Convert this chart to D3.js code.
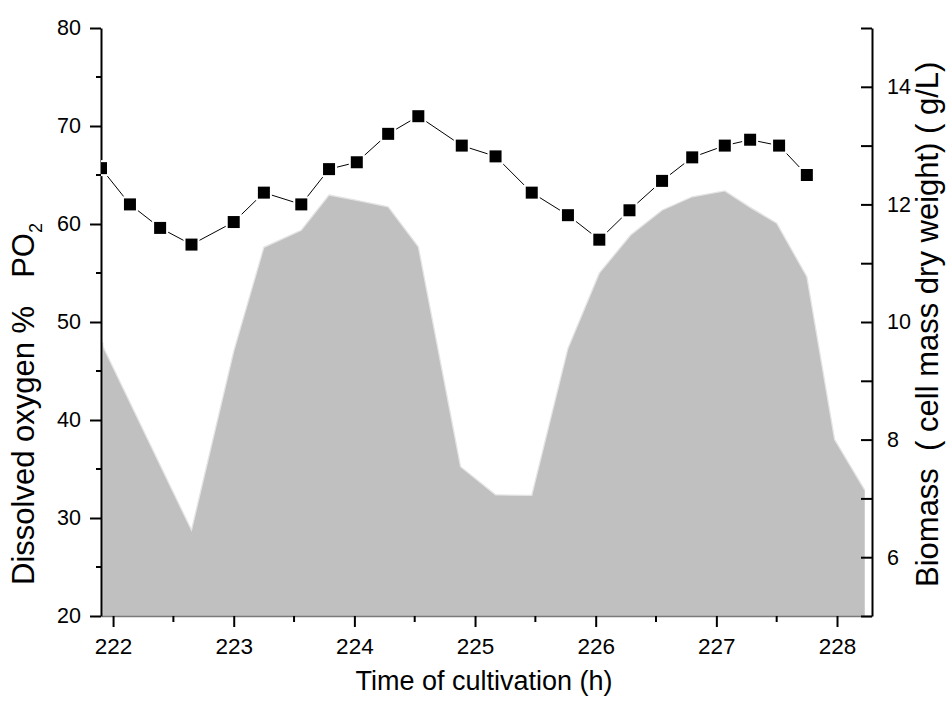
<!DOCTYPE html>
<html>
<head>
<meta charset="utf-8">
<script src="https://cdn.jsdelivr.net/npm/d3@7"></script>
<style>
  html, body { margin: 0; padding: 0; background: #fff; }
  svg { display: block; font-family: "Liberation Sans", Arial, Helvetica, sans-serif; }
</style>
</head>
<body>
<svg id="chart" width="948" height="704"></svg>
<script>
// ---- data ----
const poTime = [221.9, 222.14, 222.39, 222.65, 223.0, 223.25, 223.56, 223.79, 224.02, 224.28, 224.53, 224.89,
                225.17, 225.47, 225.77, 226.03, 226.28, 226.55, 226.8, 227.07, 227.28, 227.52, 227.75];
const poValues = [65.7, 62.0, 59.6, 57.9, 60.2, 63.2, 62.0, 65.6, 66.3, 69.2, 71.0, 68.0,
                  66.9, 63.2, 60.9, 58.4, 61.4, 64.4, 66.8, 68.0, 68.6, 68.0, 65.0];
const bioTime = [221.9, 222.65, 223.0, 223.25, 223.56, 223.79, 224.02, 224.28, 224.53, 224.88, 225.17,
                 225.47, 225.77, 226.03, 226.29, 226.55, 226.8, 227.07, 227.28, 227.5, 227.75, 227.98, 228.23];
const bioValues = [9.65, 6.46, 9.5, 11.27, 11.56, 12.16, 12.07, 11.96, 11.28, 7.54, 7.06,
                   7.05, 9.55, 10.83, 11.48, 11.9, 12.13, 12.23, 11.95, 11.68, 10.77, 8.0, 7.14];
const xTicks = [222, 223, 224, 225, 226, 227, 228];
const xMinorTicks = [222.5, 223.5, 224.5, 225.5, 226.5, 227.5];
const yLeftTicks = [20, 30, 40, 50, 60, 70, 80];
const yLeftMinor = [25, 35, 45, 55, 65, 75];
const yRightTicks = [5, 6, 7, 8, 9, 10, 11, 12, 13, 14, 15];

// ---- layout ----
const svg = d3.select("#chart");
const pL = 101, pR = 872, pT = 28, pB = 616;
const x = d3.scaleLinear().domain([221.9, 228.29]).range([pL, pR]);
const yL = d3.scaleLinear().domain([20, 80]).range([pB, pT]);
const yR = d3.scaleLinear().domain([5, 15]).range([pB, pT]);
const FONT = "Liberation Sans, Arial, sans-serif";

svg.append("defs").append("clipPath").attr("id", "plotclip")
  .append("rect").attr("x", pL).attr("y", pT - 10).attr("width", pR - pL).attr("height", pB - pT + 10);

// biomass area
const bio = bioTime.map((t, i) => ({ t, v: bioValues[i] }));
const area = d3.area().x(d => x(d.t)).y0(yR(5)).y1(d => yR(d.v));
svg.append("path").datum(bio).attr("d", area).attr("fill", "#c0c0c0").attr("stroke", "none");
const topLine = d3.line().x(d => x(d.t)).y(d => yR(d.v));
svg.append("path").datum(bio).attr("d", topLine).attr("fill", "none")
  .attr("stroke", "#e4e4e4").attr("stroke-width", 1.3);
svg.append("line").attr("x1", x(bioTime[0]) + 1.5).attr("x2", x(bioTime[0]) + 1.5)
  .attr("y1", yR(bioValues[0])).attr("y2", pB).attr("stroke", "#d6d6d6").attr("stroke-width", 1.5);

// bottom axis
const gx = svg.append("g").attr("transform", `translate(0,${pB})`)
  .call(d3.axisBottom(x).tickValues(xTicks).tickFormat(d3.format("d")).tickSizeInner(11).tickSizeOuter(0).tickPadding(11));
gx.select(".domain").attr("stroke", "#7a7a7a").attr("stroke-width", 1.5);
gx.selectAll(".tick line").attr("stroke", "#000").attr("stroke-width", 2);
gx.selectAll(".tick text").attr("font-size", 22.5).attr("fill", "#000").attr("font-family", FONT);
svg.append("g").selectAll("line").data(xMinorTicks).join("line")
  .attr("x1", d => x(d)).attr("x2", d => x(d)).attr("y1", pB).attr("y2", pB + 6)
  .attr("stroke", "#000").attr("stroke-width", 2);

// left axis
const gl = svg.append("g").attr("transform", `translate(${pL},0)`)
  .call(d3.axisLeft(yL).tickValues(yLeftTicks).tickFormat(d3.format("d")).tickSizeInner(11).tickSizeOuter(0).tickPadding(9));
gl.select(".domain").attr("stroke", "#000").attr("stroke-width", 2);
gl.selectAll(".tick line").attr("stroke", "#000").attr("stroke-width", 2);
gl.selectAll(".tick text").attr("font-size", 21.5).attr("fill", "#000").attr("font-family", FONT);
svg.append("g").selectAll("line").data(yLeftMinor).join("line")
  .attr("x1", pL - 5).attr("x2", pL).attr("y1", d => yL(d)).attr("y2", d => yL(d))
  .attr("stroke", "#000").attr("stroke-width", 2);

// right axis
const gr = svg.append("g").attr("transform", `translate(${pR},0)`)
  .call(d3.axisRight(yR).tickValues(yRightTicks).tickFormat(d => d % 2 === 0 ? d : "")
    .tickSizeInner(-11).tickSizeOuter(0).tickPadding(15));
gr.select(".domain").attr("stroke", "#000").attr("stroke-width", 2);
gr.selectAll(".tick line").attr("stroke", "#000").attr("stroke-width", 2);
gr.selectAll(".tick text").attr("font-size", 21.5).attr("fill", "#000").attr("font-family", FONT);

// PO2 line + markers
const po = poTime.map((t, i) => ({ t, v: poValues[i] }));
const plot = svg.append("g").attr("clip-path", "url(#plotclip)");
plot.append("path").datum(po).attr("d", d3.line().x(d => x(d.t)).y(d => yL(d.v)))
  .attr("fill", "none").attr("stroke", "#000").attr("stroke-width", 1);
plot.selectAll("rect.m").data(po).join("rect").attr("class", "m")
  .attr("x", d => x(d.t) - 7).attr("y", d => yL(d.v) - 7).attr("width", 14).attr("height", 14)
  .attr("fill", "#000").attr("stroke", "#fff").attr("stroke-width", 2);

// axis titles
svg.append("text").attr("x", 484).attr("y", 690).attr("text-anchor", "middle")
  .attr("font-size", 27).attr("fill", "#000").text("Time of cultivation (h)");

const lt = svg.append("text").attr("transform", "translate(34,585) rotate(-90)")
  .attr("font-size", 31).attr("fill", "#000").attr("xml:space", "preserve");
lt.append("tspan").text("Dissolved oxygen %");
lt.append("tspan").attr("dx", 28).text("PO");
lt.append("tspan").attr("font-size", 18).attr("dy", 8).text("2");

svg.append("text").attr("transform", "translate(938,587) rotate(-90)")
  .attr("font-size", 31).attr("fill", "#000").attr("xml:space", "preserve")
  .text("Biomass  ( cell mass dry weight) ( g/L)");
</script>
</body>
</html>
